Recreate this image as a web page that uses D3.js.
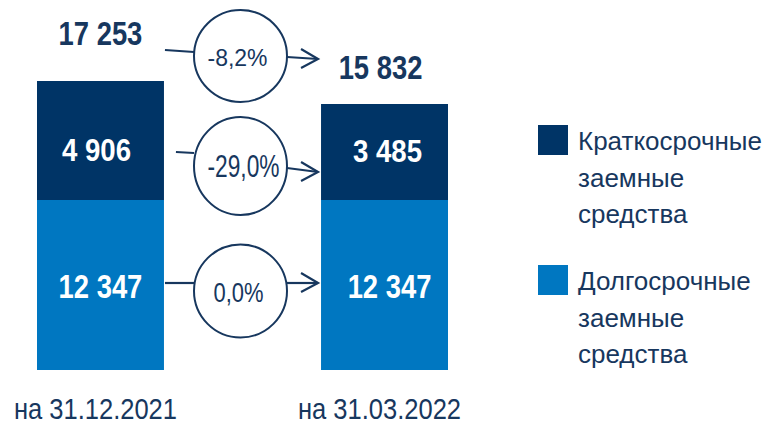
<!DOCTYPE html>
<html>
<head>
<meta charset="utf-8">
<script src="https://cdn.jsdelivr.net/npm/d3@7"></script>
<style>
  body { margin: 0; background: #fff; }
  svg text { font-family: "Liberation Sans", Arial, sans-serif; }
</style>
</head>
<body>
<div id="chart"></div>
<script>
// data
const dates = ["на 31.12.2021", "на 31.03.2022"];
const longTerm = [12347, 12347];
const shortTerm = [4906, 3485];
const totals = [17253, 15832];
const changes = ["-8,2%", "-29,0%", "0,0%"];
const seriesNames = ["Краткосрочные заемные средства", "Долгосрочные заемные средства"];

const NAVY = "#003466";
const BLUE = "#0077c1";
const TEXT = "#17375e";

const WIDTH = 769, HEIGHT = 424;

const svg = d3.select("#chart").append("svg")
  .attr("width", WIDTH)
  .attr("height", HEIGHT);

// scales
const x = d3.scaleBand().domain(dates).range([37, 448]).paddingInner(0.553);
// broken (piecewise) value axis, as on the original slide
const y = d3.scaleLinear()
  .domain([0, longTerm[0], totals[1], totals[0]])
  .range([370, 200, 104, 81]);

const fmt = v => d3.format(",")(v).replace(/,/g, " ");
const mid = d => x(d) + x.bandwidth() / 2;

// condensed text: place with translate, squeeze horizontally
function narrow(sel, fx, fy, sx) {
  sel.attr("transform", (d, i) => `translate(${fx(d, i)},${fy(d, i)}) scale(${sx},1)`);
}

const rows = dates.map((d, i) => ({ date: d, long: longTerm[i], short: shortTerm[i] }));
const stack = d3.stack().keys(["long", "short"])(rows);
const color = d3.scaleOrdinal().domain(["long", "short"]).range([BLUE, NAVY]);

// bars
svg.append("g").selectAll("g")
  .data(stack)
  .join("g")
    .attr("fill", s => color(s.key))
  .selectAll("rect")
  .data(s => s)
  .join("rect")
    .attr("x", d => x(d.data.date))
    .attr("y", d => y(d[1]))
    .attr("width", x.bandwidth())
    .attr("height", d => y(d[0]) - y(d[1]));

// value labels inside bars
svg.append("g").selectAll("text")
  .data(rows)
  .join("text")
    .attr("text-anchor", "middle")
    .attr("fill", "#fff")
    .attr("font-weight", "bold")
    .attr("font-size", "33px")
    .text(d => fmt(d.long))
    .call(narrow, (d, i) => mid(d.date) + [0, 5][i], d => y(d.long / 2) + 13, 0.83);

svg.append("g").selectAll("text")
  .data(rows)
  .join("text")
    .attr("text-anchor", "middle")
    .attr("fill", "#fff")
    .attr("font-weight", "bold")
    .attr("font-size", "31px")
    .text(d => fmt(d.short))
    .call(narrow, (d, i) => mid(d.date) + [-4, 3][i], (d, i) => y(d.long) - [39, 38][i], 0.89);

// totals above bars
svg.append("g").selectAll("text")
  .data(totals)
  .join("text")
    .attr("text-anchor", "middle")
    .attr("fill", TEXT)
    .attr("font-weight", "bold")
    .attr("font-size", "33px")
    .text(d => fmt(d))
    .call(narrow, (d, i) => mid(dates[i]) + [0, -4][i], (d, i) => y(d) - [36, 25][i], 0.83);

// x labels
svg.append("g").selectAll("text")
  .data(dates)
  .join("text")
    .attr("text-anchor", "middle")
    .attr("fill", TEXT)
    .attr("font-size", "29px")
    .text(d => d)
    .call(narrow, d => mid(d) - 5, () => 419, 0.88);

// change bubbles with arrows
const xL = x(dates[0]) + x.bandwidth();
const xR = x(dates[1]);
const cx = (xL + xR) / 2 - 2;
const rx = 46.5;
const bubbles = [
  { label: changes[0], cy: y(totals[0]) - 25, ry: 46, l: [-6, -4], r: [1, 3], x0: xL + 1,
    size: 23, w: 60, dx: -3, dy: 10 },
  { label: changes[1], cy: (y(totals[1]) + y(longTerm[1])) / 2 + 14, ry: 49, l: [-14, -13], r: [2, 6], x0: xL + 12,
    size: 31, w: 72, dx: 3, dy: 11 },
  { label: changes[2], cy: y(longTerm[0] / 2) + 6, ry: 46.5, l: [-8, -8], r: [-8, -8], x0: xL + 1,
    size: 28, w: 50, dx: -2, dy: 11 }
];

const bub = svg.append("g").selectAll("g")
  .data(bubbles)
  .join("g");

bub.append("line")
  .attr("x1", d => d.x0).attr("y1", d => d.cy + d.l[0])
  .attr("x2", cx - rx).attr("y2", d => d.cy + d.l[1]);

bub.append("line")
  .attr("x1", cx + rx).attr("y1", d => d.cy + d.r[0])
  .attr("x2", xR - 3).attr("y2", d => d.cy + d.r[1]);

bub.append("polyline")
  .attr("points", d => {
    const tx = xR - 3, ty = d.cy + d.r[1];
    return `${tx - 17},${ty - 10} ${tx},${ty} ${tx - 17},${ty + 9}`;
  })
  .attr("fill", "none");

bub.selectAll("line, polyline")
  .attr("stroke", TEXT)
  .attr("stroke-width", 2.2);

bub.append("ellipse")
  .attr("cx", cx)
  .attr("cy", d => d.cy)
  .attr("rx", rx)
  .attr("ry", d => d.ry)
  .attr("fill", "#fff")
  .attr("stroke", TEXT)
  .attr("stroke-width", 2);

bub.append("text")
  .attr("x", d => cx + d.dx - d.w / 2)
  .attr("y", d => d.cy + d.dy)
  .attr("fill", TEXT)
  .attr("font-size", d => d.size + "px")
  .attr("textLength", d => d.w)
  .attr("lengthAdjust", "spacingAndGlyphs")
  .text(d => d.label);

// legend
const legend = svg.append("g").attr("transform", "translate(538, 125)");
const legItems = legend.selectAll("g")
  .data(seriesNames)
  .join("g")
    .attr("transform", (d, i) => `translate(0, ${i * 140})`);

legItems.append("rect")
  .attr("width", 30)
  .attr("height", 30)
  .attr("fill", (d, i) => i === 0 ? NAVY : BLUE);

legItems.append("text")
  .attr("fill", TEXT)
  .attr("font-size", "26px")
  .selectAll("tspan")
  .data(d => d.split(" "))
  .join("tspan")
    .attr("x", 40)
    .attr("y", (d, i) => 25 + i * 36.5)
    .text(d => d);
</script>
</body>
</html>
